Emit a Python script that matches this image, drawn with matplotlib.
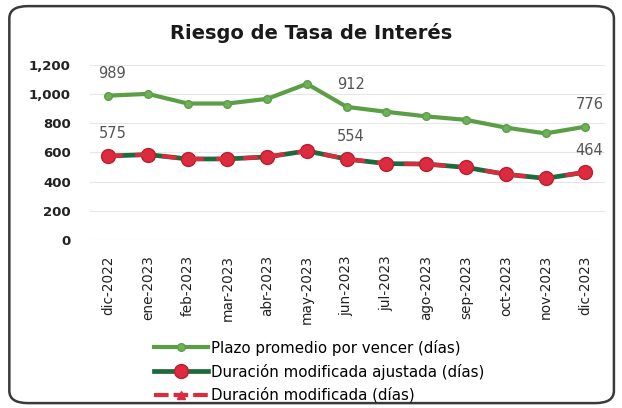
import matplotlib
matplotlib.use("Agg")
import matplotlib.pyplot as plt
from matplotlib.patches import FancyBboxPatch
from matplotlib.lines import Line2D

meses = ['dic-2022', 'ene-2023', 'feb-2023', 'mar-2023', 'abr-2023', 'may-2023',
         'jun-2023', 'jul-2023', 'ago-2023', 'sep-2023', 'oct-2023', 'nov-2023',
         'dic-2023']
plazo = [989, 1001, 935, 935, 967, 1070, 912, 878, 847, 823, 770, 730, 776]
dur_ajustada = [575, 585, 555, 555, 569, 610, 554, 523, 520, 497, 450, 422, 464]
dur_modificada = [575, 585, 555, 555, 569, 610, 554, 523, 520, 497, 450, 422, 464]

# indices de los puntos con etiqueta
etiquetas_plazo = [0, 6, 12]
etiquetas_dur = [0, 6, 12]

plt.rcParams['font.family'] = ['DejaVu Sans']

fig = plt.figure(figsize=(6.22, 4.08), dpi=100)
fig.patch.set_facecolor('white')

# marco redondeado
marco = FancyBboxPatch((0.015, 0.012), 0.972, 0.973,
                       boxstyle="round,pad=0,rounding_size=0.03",
                       transform=fig.transFigure, facecolor='none',
                       edgecolor='#3a3a3a', linewidth=1.8)
fig.patches.append(marco)

ax = fig.add_axes([0.145, 0.412, 0.828, 0.429])
x = list(range(len(meses)))

verde = '#5b9e45'
verde_osc = '#1d6b3c'
rojo = '#dc2a3e'

ax.plot(x, plazo, color=verde, lw=3, marker='o', ms=5.5,
        mfc='#6fb05a', mec=verde, label='Plazo promedio por vencer (días)', zorder=3)
ax.plot(x, dur_ajustada, color=verde_osc, lw=3.4, marker='o', ms=10,
        mfc=rojo, mec='#b81f30', mew=1, label='Duración modificada ajustada (días)',
        zorder=3)
ax.plot(x, dur_modificada, color=rojo, lw=3, ls=(0, (3.5, 3)), marker='^', ms=5,
        mfc=rojo, mec=rojo, markevery=[], label='Duración modificada (días)', zorder=4)

for i in etiquetas_plazo:
    ax.annotate(f'{plazo[i]}', (x[i], plazo[i]), xytext=(3, 16),
                textcoords='offset points', ha='center', va='center',
                fontsize=10.5, color='#555555')
for i in etiquetas_dur:
    ax.annotate(f'{dur_ajustada[i]}', (x[i], dur_ajustada[i]), xytext=(3, 16),
                textcoords='offset points', ha='center', va='center',
                fontsize=10.5, color='#555555')

ax.set_xlim(-0.45, 12.5)
ax.set_ylim(0, 1200)
ax.set_yticks(range(0, 1201, 200))
ax.set_yticklabels([f'{v:,}' for v in range(0, 1201, 200)],
                   fontsize=9.5, fontweight='bold', color='#222222')
ax.set_xticks(x)
ax.set_xticklabels(meses, rotation=90, fontsize=9.8, color='#222222')
ax.tick_params(length=0, pad=11)
ax.tick_params(axis='y', pad=14)
ax.grid(axis='y', color='#e6e6e6', lw=0.8)
ax.set_axisbelow(True)
for s in ax.spines.values():
    s.set_visible(False)

fig.text(0.5, 0.918, 'Riesgo de Tasa de Interés', ha='center', va='center',
         fontsize=14, fontweight='bold', color='#1a1a1a')

# leyenda con triangulo en la entrada de duracion modificada
h, l = ax.get_legend_handles_labels()
h[2] = Line2D([], [], color=rojo, lw=3, ls=(0, (3.5, 1.2)), marker='^', ms=6,
              mfc=rojo, mec=rojo)
fig.legend(h, l, loc='upper left', bbox_to_anchor=(0.238, 0.182),
           frameon=False, fontsize=10.8, handlelength=3.6, handletextpad=0.2,
           labelspacing=0.52, borderaxespad=0)

fig.savefig('out.png', dpi=100, facecolor='white')
